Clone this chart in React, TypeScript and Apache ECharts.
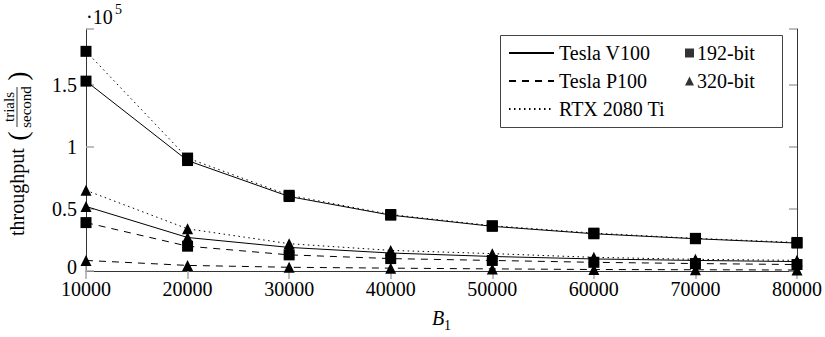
import React, { useEffect, useRef } from "react";
import * as echarts from "echarts";

const blockSizes = [10000, 20000, 30000, 40000, 50000, 60000, 70000, 80000];
const v100_192 = [153000, 89000, 60000, 45000, 36000, 30000, 26000, 22500];
const p100_192 = [39000, 20000, 13000, 10000, 8500, 7000, 6000, 5200];
const rtx_192 = [177000, 91000, 61000, 45500, 36500, 30500, 26300, 23000];
const v100_320 = [52000, 27000, 19000, 14500, 11700, 9700, 8500, 7600];
const p100_320 = [8500, 4500, 3000, 2300, 1700, 1200, 1000, 800];
const rtx_320 = [65000, 34000, 22000, 16600, 14000, 11000, 9400, 8600];
const gpuNames = ["Tesla V100", "Tesla P100", "RTX 2080 Ti"];
const bitNames = ["192-bit", "320-bit"];
const yTickLabels = ["0", "0.5", "1", "1.5"];

const FONT = "'Liberation Serif', 'Times New Roman', serif";

const pairs = (ys: number[]) => blockSizes.map((x, i) => [x, ys[i]]);

export default function App() {
  const ref = useRef<HTMLDivElement>(null);
  useEffect(() => {
    if (!ref.current) return;
    const chart = echarts.init(ref.current, null, { renderer: "svg" });

    const lineTypes: Record<string, any> = {
      "Tesla V100": "solid",
      "Tesla P100": [7, 6],
      "RTX 2080 Ti": [1.5, 3.5],
    };
    const mk = (name: string, ys: number[], symbol: string) => ({
      type: "line",
      name,
      data: pairs(ys),
      symbol,
      symbolSize: 11,
      showSymbol: true,
      lineStyle: { color: "#000", width: 1, type: lineTypes[name] },
      itemStyle: { color: "#000" },
      emphasis: { disabled: true },
      z: 3,
    });

    const axisLine = { show: true, lineStyle: { color: "#333", width: 1 } };
    const tick = { show: true, inside: true, length: 8, lineStyle: { color: "#a8a8a8", width: 1.5 } };

    chart.setOption({
      animation: false,
      grid: { left: 86, right: 28, top: 29, bottom: 58, containLabel: false },
      xAxis: [
        {
          type: "value",
          min: 10000,
          max: 80000,
          interval: 10000,
          axisLine,
          axisTick: tick,
          splitLine: { show: false },
          axisLabel: {
            color: "#000",
            fontFamily: FONT,
            fontSize: 20,
            lineHeight: 16,
            margin: 10,
            formatter: (v: number) => String(v),
          },
          name: "{i|B}{s|1}",
          nameLocation: "middle",
          nameGap: 37,
          nameTextStyle: {
            rich: {
              i: { fontFamily: FONT, fontSize: 20, fontStyle: "italic", color: "#000", verticalAlign: "bottom" },
              s: { fontFamily: FONT, fontSize: 14, color: "#000", verticalAlign: "bottom", padding: [0, 0, -4, 0] },
            },
          },
        },
        {
          type: "value",
          position: "top",
          min: 10000,
          max: 80000,
          interval: 10000,
          axisLine,
          axisTick: tick,
          axisLabel: { show: false },
          splitLine: { show: false },
        },
      ],
      yAxis: [
        {
          type: "value",
          min: 0,
          max: 195000,
          interval: 50000,
          axisLine,
          axisTick: tick,
          splitLine: { show: false },
          axisLabel: {
            color: "#000",
            fontFamily: FONT,
            fontSize: 20,
            lineHeight: 14,
            margin: 9,
            formatter: (v: number) => {
              const idx = Math.round(v / 50000);
              if (v % 50000 !== 0 || idx >= yTickLabels.length) return "";
              return idx === 0 ? "{z|" + yTickLabels[0] + "}" : yTickLabels[idx];
            },
            rich: {
              z: { fontFamily: FONT, fontSize: 20, color: "#000", lineHeight: 14, padding: [0, 0, 9, 0] },
            },
          },
        },
        {
          type: "value",
          position: "right",
          min: 0,
          max: 195000,
          interval: 50000,
          axisLine,
          axisTick: tick,
          axisLabel: { show: false },
          splitLine: { show: false },
        },
      ],
      legend: [
        {
          data: gpuNames,
          orient: "vertical",
          left: 508,
          top: 43,
          padding: 0,
          itemGap: 8,
          itemWidth: 45,
          itemHeight: 14,
          selectedMode: false,
          z: 10,
          itemStyle: { opacity: 0, color: "transparent", borderWidth: 0 },
          textStyle: { color: "#000", fontFamily: FONT, fontSize: 20, lineHeight: 20 },
        },
        {
          data: bitNames,
          orient: "vertical",
          left: 685,
          top: 43,
          padding: 0,
          itemGap: 8,
          itemWidth: 9,
          itemHeight: 9,
          selectedMode: false,
          z: 10,
          textStyle: { color: "#000", fontFamily: FONT, fontSize: 20, lineHeight: 20, padding: [0, 0, 0, -2] },
        },
      ],
      graphic: [
        {
          type: "rect",
          left: 500,
          top: 35,
          shape: { width: 282, height: 92 },
          style: { fill: "#fff", stroke: "#444", lineWidth: 1 },
          z: 5,
        },
        {
          type: "text",
          left: 86,
          top: 7,
          style: { text: "·10", fontFamily: FONT, fontSize: 20, fill: "#000" },
        },
        {
          type: "text",
          left: 115,
          top: 2,
          style: { text: "5", fontFamily: FONT, fontSize: 14, fill: "#000" },
        },
        {
          type: "group",
          x: 17,
          y: 150,
          rotation: Math.PI / 2,
          children: [
            {
              type: "text",
              x: -86,
              y: 0,
              style: { text: "throughput", fontFamily: FONT, fontSize: 20, fill: "#000", align: "left", verticalAlign: "middle" },
            },
            {
              type: "text",
              x: 14,
              y: 0,
              style: { text: "(", fontFamily: FONT, fontSize: 28, fill: "#000", align: "center", verticalAlign: "middle" },
            },
            {
              type: "text",
              x: 43,
              y: -8,
              style: { text: "trials", fontFamily: FONT, fontSize: 15, fill: "#000", align: "center", verticalAlign: "middle" },
            },
            {
              type: "line",
              shape: { x1: 23, y1: 0, x2: 63, y2: 0 },
              style: { stroke: "#000", lineWidth: 0.8 },
            },
            {
              type: "text",
              x: 43,
              y: 9,
              style: { text: "second", fontFamily: FONT, fontSize: 15, fill: "#000", align: "center", verticalAlign: "middle" },
            },
            {
              type: "text",
              x: 74,
              y: 0,
              style: { text: ")", fontFamily: FONT, fontSize: 28, fill: "#000", align: "center", verticalAlign: "middle" },
            },
          ],
        },
      ],
      series: [
        mk("Tesla V100", v100_192, "rect"),
        mk("Tesla P100", p100_192, "rect"),
        mk("RTX 2080 Ti", rtx_192, "rect"),
        mk("Tesla V100", v100_320, "triangle"),
        mk("Tesla P100", p100_320, "triangle"),
        mk("RTX 2080 Ti", rtx_320, "triangle"),
        { type: "scatter", name: "192-bit", data: [], symbol: "rect", itemStyle: { color: "#000" } },
        { type: "scatter", name: "320-bit", data: [], symbol: "triangle", itemStyle: { color: "#000" } },
      ],
    });
    return () => chart.dispose();
  }, []);
  return (
    <div
      ref={ref}
      style={{ position: "fixed", left: 0, top: 0, width: 825, height: 337, background: "#fff" }}
    />
  );
}
